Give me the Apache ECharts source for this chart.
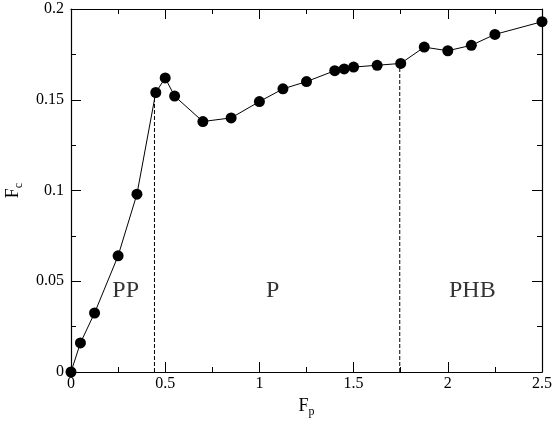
<!DOCTYPE html>
<html>
<head>
<meta charset="utf-8">
<script src="https://cdn.jsdelivr.net/npm/echarts@6/dist/echarts.min.js"></script>
<style>
  html, body { margin: 0; padding: 0; background: #fff; }
  #chart { width: 554px; height: 422px; }
</style>
</head>
<body>
<div id="chart"></div>
<script>
// measured points, F_p vs F_c
const fp = [0, 0.05, 0.125, 0.25, 0.35, 0.45, 0.5, 0.55, 0.7, 0.85, 1.0, 1.125,
    1.25, 1.4, 1.45, 1.5, 1.625, 1.75, 1.875, 2.0, 2.125, 2.25, 2.5]
const fc = [0, 0.016, 0.0325, 0.064, 0.098, 0.154, 0.162, 0.152, 0.138, 0.140, 0.149, 0.156,
    0.160, 0.166, 0.167, 0.168, 0.169, 0.170, 0.179, 0.177, 0.180, 0.186, 0.193]

// phase boundaries (dashed verticals)
const boundaryX = [0.443, 1.745]
const boundaryTop = [0.154, 0.170]

// region names
const regionNames = ['PP', 'P', 'PHB']
const regionX = [0.29, 1.07, 2.13]
const regionY = [0.045, 0.045, 0.045]

const font = 'Liberation Serif'
const black = '#000'

const chart = echarts.init(document.getElementById('chart'))

const tickCommon = {
    axisLine: {onZero: false, lineStyle: {color: black, width: 1.2}},
    axisTick: {inside: true, length: 10, lineStyle: {color: black}},
    minorTick: {show: true, splitNumber: 2, length: 5, lineStyle: {color: black}},
    splitLine: {show: false}
}

const series = [{
    type: 'line',
    data: fp.map((x, i) => [x, fc[i]]),
    symbol: 'circle',
    symbolSize: 11,
    itemStyle: {color: black},
    lineStyle: {color: black, width: 1},
    z: 3
}]

boundaryX.forEach((x, i) => {
    series.push({
        type: 'line',
        data: [[x, 0], [x, boundaryTop[i]]],
        symbol: 'none',
        lineStyle: {color: black, width: 1, type: [4, 2]},
        z: 2
    })
})

series.push({
    type: 'scatter',
    data: regionNames.map((n, i) => [regionX[i], regionY[i], n]),
    symbolSize: 0,
    label: {
        show: true,
        position: 'inside',
        formatter: p => p.data[2],
        fontFamily: font,
        fontSize: 24,
        color: black
    }
})

chart.setOption({
    animation: false,
    grid: {left: 71, right: 12, top: 9, bottom: 50, outerBoundsMode: 'none'},
    xAxis: [{
        type: 'value', min: 0, max: 2.5, interval: 0.5,
        ...tickCommon,
        axisLabel: {fontFamily: font, fontSize: 16, color: black, margin: 4,
            formatter: v => String(v)},
        name: '{f|F}{s|p}',
        nameLocation: 'middle',
        nameGap: 22,
        nameTextStyle: {
            rich: {
                f: {fontFamily: font, fontSize: 18, color: black},
                s: {fontFamily: font, fontSize: 12, color: black, padding: [12, 0, 0, 0]}
            }
        }
    }, {
        type: 'value', min: 0, max: 2.5, interval: 0.5, position: 'top',
        ...tickCommon,
        axisLabel: {show: false}
    }],
    yAxis: [{
        type: 'value', min: 0, max: 0.2, interval: 0.05,
        ...tickCommon,
        axisLabel: {fontFamily: font, fontSize: 16, color: black, margin: 7,
            formatter: v => String(v)},
        name: '{f|F}{s|c}',
        nameLocation: 'middle',
        nameRotate: 90,
        nameGap: 42,
        nameTextStyle: {
            rich: {
                f: {fontFamily: font, fontSize: 18, color: black},
                s: {fontFamily: font, fontSize: 12, color: black, padding: [12, 0, 0, 0]}
            }
        }
    }, {
        type: 'value', min: 0, max: 0.2, interval: 0.05, position: 'right',
        ...tickCommon,
        axisLabel: {show: false}
    }],
    series: series
})
</script>
</body>
</html>
